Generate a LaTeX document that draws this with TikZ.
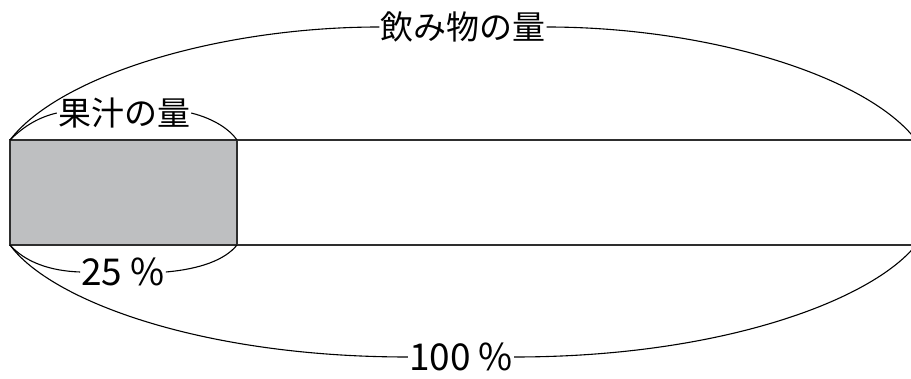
\documentclass[tikz,border=0pt]{standalone}
\usepackage{fontspec}
\setmainfont{Noto Sans CJK JP}
\definecolor{juice}{HTML}{BEBFC1}
\definecolor{barline}{HTML}{2E2E2E}

\begin{document}
\begin{tikzpicture}[x=1pt, y=-1pt,
    barline/.style={line width=2.6pt, draw=barline},
    curve/.style={line width=1.1pt},
    word/.style={inner sep=1pt, font=\fontsize{33}{36}\selectfont},
    percent/.style={inner sep=1pt, font=\fontsize{37}{40}\selectfont}]
    \useasboundingbox (0,0) rectangle (911,379);

    % bar
    \coordinate (tl) at (10,140);
    \coordinate (bl) at (10,245);
    \coordinate (tm) at (237,140);
    \coordinate (bm) at (237,245);
    \coordinate (tr) at (916,140);
    \coordinate (br) at (916,245);
    \fill[juice] (tl) rectangle (bm);
    \draw[barline] (tr)--(tl)--(bl)--(br);
    \draw[line width=1.6pt, draw=barline] (tm)--(bm);

    % labels
    \node[word] (drink) at (463,27) {飲み物の量};
    \node[word] (juicelbl) at (124,113) {果汁の量};
    \node[percent] (quarter) at (123,272) {25 \%};
    \node[percent] (whole) at (461,357) {100 \%};

    % curves
    \draw[curve] (tl) .. controls (60,75) and (220,27) .. (drink.west);
    \draw[curve] (drink.east) .. controls (706,27) and (866,75) .. (tr);
    \draw[curve] (tl) .. controls (25,125) and (40,117) .. (juicelbl.west);
    \draw[curve] (juicelbl.east) .. controls (215,119) and (230,130) .. (tm);
    \draw[curve] (bl) .. controls (25,262) and (50,271) .. (quarter.west);
    \draw[curve] (quarter.east) .. controls (200,269) and (225,260) .. (bm);
    \draw[curve] (bl) .. controls (50,300) and (200,357) .. (whole.west);
    \draw[curve] (whole.east) .. controls (722,357) and (872,300) .. (br);
\end{tikzpicture}
\end{document}
